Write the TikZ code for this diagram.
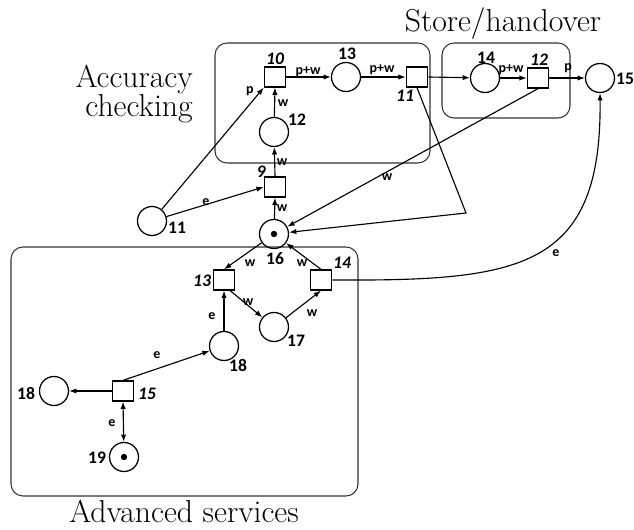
\documentclass[tikz,border=0pt]{standalone}
\usepackage{fontspec}
\newfontfamily\numfont{Carlito}
\usetikzlibrary{arrows.meta}
\tikzset{
  place/.style={circle,draw,line width=0.95pt,minimum size=21.75pt,inner sep=0pt},
  trans/.style={rectangle,draw,line width=0.95pt,minimum width=16pt,minimum height=15pt,inner sep=0pt},
  token/.style={circle,fill,inner sep=0pt,minimum size=4.8pt},
  pnarc/.style={line width=0.85pt,-{Latex[length=5.5pt,width=4pt]}},
  groupbox/.style={draw=black!80,line width=0.8pt,rounded corners=9pt},
  plbl/.style={font=\numfont\bfseries\fontsize{13.2}{15}\selectfont,inner sep=0pt},
  tlbl/.style={font=\numfont\bfseries\itshape\fontsize{13.2}{15}\selectfont,inner sep=0pt},
  albl/.style={font=\numfont\bfseries\fontsize{10.5}{12}\selectfont,inner sep=0pt},
  heading/.style={font=\fontsize{23.8}{27}\selectfont,inner sep=0pt},
}
\begin{document}
\begin{tikzpicture}[x=0.75pt,y=-0.75pt]
\useasboundingbox (0,0) rectangle (634,530);

% group frames
\draw[groupbox] (215,43) rectangle (430,163);
\draw[groupbox] (442,43) rectangle (570,118);
\draw[groupbox] (11,247) rectangle (358,496);

% headings
\node[heading,anchor=base east] (hacc1) at (193,88) {Accuracy};
\node[heading,anchor=base east] (hacc2) at (193,117) {checking};
\node[heading,anchor=base] (hstore) at (503,32) {Store/handover};
\node[heading,anchor=base] (hadv) at (184,522) {Advanced services};

% places
\node[place] (p11) at (152,221) {};
\node[place] (p12) at (274,132) {};
\node[place] (p13) at (346,77) {};
\node[place] (p14) at (485,78) {};
\node[place] (p15) at (600,78) {};
\node[place] (p16) at (274,234) {};
\node[place] (p17) at (274,327) {};
\node[place] (p18i) at (224,346) {};
\node[place] (p18l) at (54,391) {};
\node[place] (p19) at (124,457) {};
\node[token] (tok16) at (p16) {};
\node[token] (tok19) at (p19) {};

% transitions
\node[trans] (t9) at (275,187) {};
\node[trans] (t10) at (275,77) {};
\node[trans] (t11) at (417,77) {};
\node[trans] (t12) at (538,78) {};
\node[trans] (t13) at (224,280) {};
\node[trans] (t14) at (321,280) {};
\node[trans] (t15) at (123,391) {};

% place labels
\node[plbl] (l11) at (177,228) {11};
\node[plbl] (l12) at (297,120) {12};
\node[plbl] (l13) at (347,54) {13};
\node[plbl] (l14) at (486,58) {14};
\node[plbl] (l15) at (625,79) {15};
\node[plbl] (l16) at (275,259) {16};
\node[plbl] (l17) at (296,341) {17};
\node[plbl] (l18i) at (238,365) {18};
\node[plbl] (l18l) at (26,393) {18};
\node[plbl] (l19) at (97,458) {19};

% transition labels
\node[tlbl] (lt9) at (261,172) {9};
\node[tlbl] (lt10) at (275,59) {10};
\node[tlbl] (lt11) at (405,96) {11};
\node[tlbl] (lt12) at (539,60) {12};
\node[tlbl] (lt13) at (202,281) {13};
\node[tlbl] (lt14) at (342,263) {14};
\node[tlbl] (lt15) at (147,394) {15};

% arcs
\coordinate (bend) at (466,213);
\draw[pnarc] (p11) -- (t10.south west);
\draw[pnarc] (p11) -- (t9.west);
\draw[pnarc] (t9.north) -- (p12);
\draw[pnarc] (p12) -- (t10.south);
\draw[pnarc] (t10.east) -- (p13);
\draw[pnarc] (p13) -- (t11.west);
\draw[pnarc] (t11.east) -- (p14);
\draw[pnarc] (p14) -- (t12.west);
\draw[pnarc] (t12.east) -- (p15);
\draw[pnarc] (t12.south) -- (p16);
\draw[pnarc] (t11.south) -- (bend) -- (p16);
\draw[pnarc] (p16) -- (t9.south);
\draw[pnarc] (p16) -- (t13.north);
\draw[pnarc] (t14.north) -- (p16);
\draw[pnarc] (t13.-60) -- (p17);
\draw[pnarc] (p17) -- (t14.south);
\draw[pnarc] (p18i) -- (t13.south);
\draw[pnarc] (t15.north) -- (p18i);
\draw[pnarc] (t15.west) -- (p18l);
\draw[pnarc,{Latex[length=5.5pt,width=4pt]}-{Latex[length=5.5pt,width=4pt]}] (t15.south) -- (p19);
\draw[pnarc] (t14.east) .. controls (520,281) and (602,270) .. (p15.south);

% arc inscriptions
\node[albl] (a1) at (250,91) {p};
\node[albl] (a2) at (206,202) {e};
\node[albl] (a3) at (282,162) {w};
\node[albl] (a4) at (283,103) {w};
\node[albl] (a5) at (308,72) {p+w};
\node[albl] (a6) at (382,70) {p+w};
\node[albl] (a7) at (511,70) {p+w};
\node[albl] (a8) at (568,68) {p};
\node[albl] (a9) at (387,177) {w};
\node[albl] (a10) at (282,208) {w};
\node[albl] (a11) at (250,263) {w};
\node[albl] (a12) at (302,263) {w};
\node[albl] (a13) at (248,302) {w};
\node[albl] (a14) at (312,313) {w};
\node[albl] (a15) at (212,316) {e};
\node[albl] (a16) at (157,355) {e};
\node[albl] (a17) at (112,423) {e};
\node[albl] (a18) at (556,253) {e};
\end{tikzpicture}
\end{document}
